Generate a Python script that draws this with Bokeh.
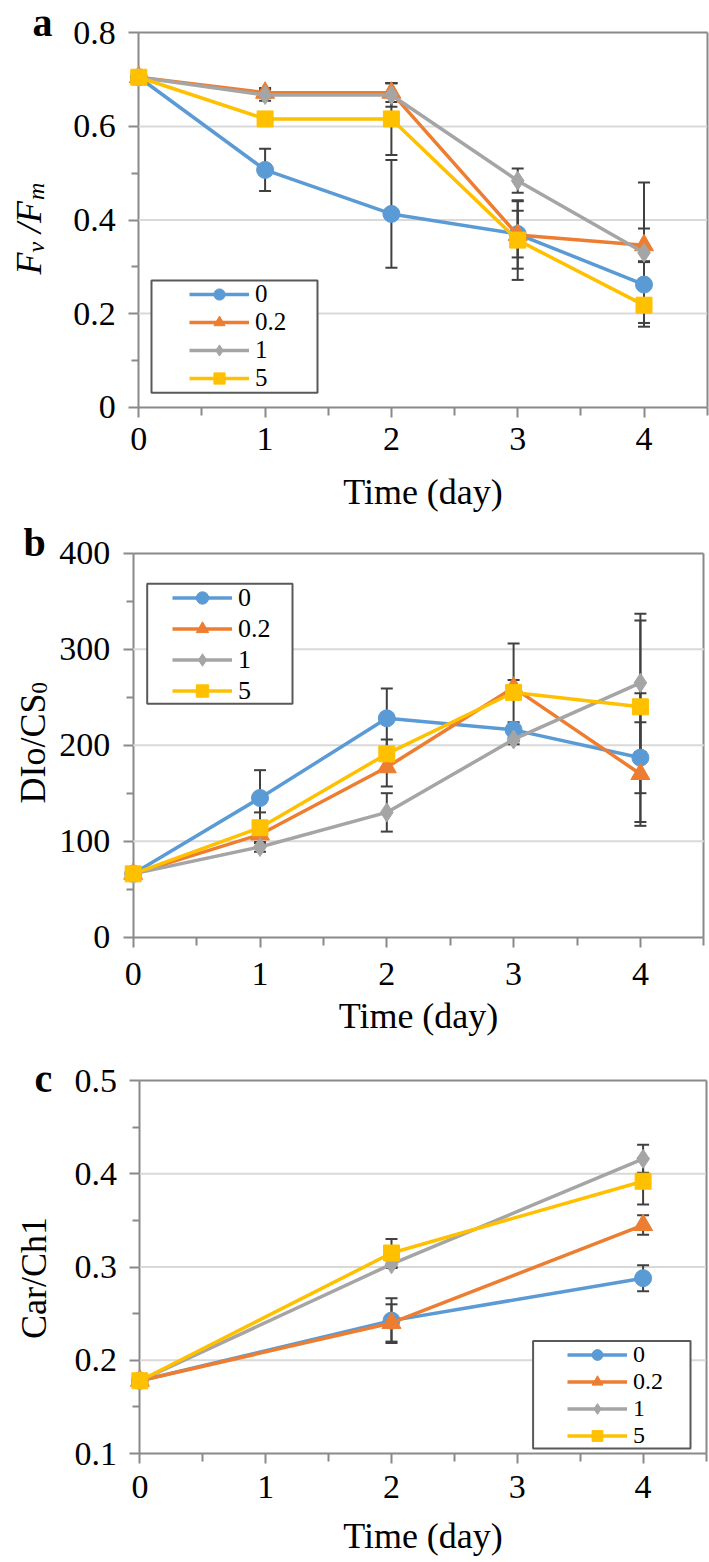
import numpy as np
from bokeh.plotting import figure
from bokeh.layouts import column
from bokeh.models import Range1d, FixedTicker, LinearAxis, Label
from bokeh.embed import file_html
from bokeh.resources import INLINE

# ---------------- data ----------------
series_names = ["0", "0.2", "1", "5"]
days_ab = [0, 1, 2, 3, 4]
days_c = [0, 2, 4]

# panel a : Fv/Fm
fvfm_0 = [0.705, 0.507, 0.413, 0.370, 0.262]
fvfm_02 = [0.705, 0.672, 0.672, 0.368, 0.346]
fvfm_1 = [0.705, 0.667, 0.667, 0.484, 0.330]
fvfm_5 = [0.705, 0.616, 0.616, 0.357, 0.218]
fvfm_0_err = [0.0, 0.045, 0.115, 0.050, 0.050]
fvfm_02_err = [0.0, 0.010, 0.020, 0.072, 0.036]
fvfm_1_err = [0.0, 0.012, 0.025, 0.026, 0.150]
fvfm_5_err = [0.0, 0.010, 0.077, 0.085, 0.046]

# panel b : DIo/CS0
dio_0 = [66, 145, 228, 216, 187]
dio_02 = [66, 107, 177, 260, 170]
dio_1 = [66, 94, 130, 206, 265]
dio_5 = [66, 114, 191, 255, 240]
dio_0_err = [0, 29, 31, 8, 67]
dio_02_err = [0, 8, 20, 8, 54]
dio_1_err = [0, 5, 20, 5, 72]
dio_5_err = [0, 16, 15, 51, 90]

# panel c : Car/Chl
car_0 = [0.178, 0.2425, 0.288]
car_02 = [0.178, 0.240, 0.345]
car_1 = [0.178, 0.303, 0.416]
car_5 = [0.178, 0.315, 0.392]
car_0_err = [0.0, 0.024, 0.014]
car_02_err = [0.0, 0.020, 0.0105]
car_1_err = [0.0, 0.004, 0.015]
car_5_err = [0.0, 0.015, 0.025]

# ticks
x_ticks = [0, 1, 2, 3, 4]
x_tick_labels = ["0", "1", "2", "3", "4"]
x_max = 4.5
fvfm_ticks = [0, 0.2, 0.4, 0.6, 0.8]
fvfm_tick_labels = ["0", "0.2", "0.4", "0.6", "0.8"]
dio_ticks = [0, 100, 200, 300, 400]
dio_tick_labels = ["0", "100", "200", "300", "400"]
car_ticks = [0.1, 0.2, 0.3, 0.4, 0.5]
car_tick_labels = ["0.1", "0.2", "0.3", "0.4", "0.5"]
x_title = "Time (day)"

# ---------------- style ----------------
COLORS = ["#5B9BD5", "#ED7D31", "#A5A5A5", "#FFC000"]
MARKERS = ["circle", "triangle", "diamond", "square"]
SIZES = [17, 19, 19, 16]
AXC = "#898989"
ERRC = "#404040"
FONT = "Liberation Serif"
FIG_W = 709


def minor_of(ticks):
    t = np.asarray(ticks, dtype=float)
    return list((t[:-1] + t[1:]) / 2.0)


def style_axis(ax):
    ax.axis_line_color = AXC
    ax.axis_line_width = 2
    ax.major_tick_line_color = AXC
    ax.major_tick_line_width = 2
    ax.minor_tick_line_color = AXC
    ax.minor_tick_line_width = 2
    ax.major_label_text_font = FONT
    ax.major_label_text_font_size = "34px"
    ax.major_label_text_color = "black"
    ax.level = "underlay"


def build(spec):
    H = spec["height"]
    ticks, labels = spec["yticks"], spec["ylabels"]
    ylo, yhi = ticks[0], ticks[-1]
    fig_top = spec["fig_top"]
    ax_x = spec["axis_x"]
    ppu = spec["ppu"]
    f_top, f_bot = spec["frame"]
    ppy = (f_bot - f_top) / (yhi - ylo)

    def xd(sx):
        return (sx - ax_x) / ppu

    def yd(sy):
        return ylo + (f_bot - sy) / ppy

    p = figure(width=FIG_W, height=H,
               x_range=Range1d(xd(0), xd(FIG_W)),
               y_range=Range1d(yd(fig_top + H), yd(fig_top)),
               output_backend="svg", toolbar_location=None, tools="",
               min_border=0, min_border_left=0, min_border_right=0,
               min_border_top=0, min_border_bottom=0,
               background_fill_color="white", border_fill_color="white")
    p.outline_line_color = None
    p.xgrid.visible = False
    p.ygrid.visible = False

    # y axis at x = 0
    yax = p.yaxis[0]
    yax.fixed_location = 0
    yax.bounds = (ylo, yhi)
    yax.ticker = FixedTicker(ticks=ticks, minor_ticks=minor_of(ticks))
    yax.major_label_overrides = dict(zip(ticks, labels))
    yax.major_tick_out, yax.major_tick_in = 10, 0
    yax.minor_tick_out, yax.minor_tick_in = 7, 0
    yax.major_label_standoff = 13
    style_axis(yax)
    # x axis at y = ylo
    xax = p.xaxis[0]
    xax.fixed_location = ylo
    xax.bounds = (0, x_max)
    xax.ticker = FixedTicker(ticks=x_ticks, minor_ticks=minor_of(x_ticks + [x_max + 0.5]))
    xax.major_label_overrides = dict(zip(x_ticks, x_tick_labels))
    xax.major_tick_out, xax.major_tick_in = 10, 0
    xax.minor_tick_out, xax.minor_tick_in = 8, 0
    xax.major_label_standoff = spec["xstand"]
    xax.axis_label = x_title
    xax.axis_label_standoff = spec["tstand"]
    xax.axis_label_text_font = FONT
    xax.axis_label_text_font_size = "36px"
    xax.axis_label_text_font_style = "normal"
    xax.axis_label_text_color = "black"
    style_axis(xax)
    # frame top / right borders
    top = LinearAxis(fixed_location=yhi, bounds=(0, x_max), ticker=FixedTicker(ticks=[]),
                     major_label_text_font_size="0px", major_tick_out=0, minor_tick_out=0)
    style_axis(top)
    p.add_layout(top, "above")
    right = LinearAxis(fixed_location=x_max, bounds=(ylo, yhi), ticker=FixedTicker(ticks=[]),
                       major_label_text_font_size="0px", major_tick_out=0, minor_tick_out=0)
    style_axis(right)
    p.add_layout(right, "right")

    # horizontal gridlines at inner major ticks
    inner = ticks[1:-1]
    p.segment(x0=[0] * len(inner), x1=[x_max] * len(inner), y0=inner, y1=inner,
              line_color="#d9d9d9", line_width=2)

    # legend frame
    bx0, by0, bx1, by1 = spec["box"]
    p.quad(left=xd(bx0), right=xd(bx1), top=yd(by0), bottom=yd(by1),
           fill_color="white", line_color="#595959", line_width=2)

    xs = spec["x"]
    # error bars
    for k, name in enumerate(series_names):
        vals = spec["vals"][k]
        errs = spec["errs"][k]
        keep = [i for i, e in enumerate(errs) if e > 0]
        ex = [xs[i] for i in keep]
        up = [vals[i] + errs[i] for i in keep]
        lo = [vals[i] - errs[i] for i in keep]
        p.segment(x0=ex, x1=ex, y0=lo, y1=up, line_color=ERRC, line_width=2)
        p.scatter(ex, up, marker="dash", size=12, line_color=ERRC, line_width=2)
        p.scatter(ex, lo, marker="dash", size=12, line_color=ERRC, line_width=2)
    # series
    for k, name in enumerate(series_names):
        vals = spec["vals"][k]
        p.line(xs, vals, line_color=COLORS[k], line_width=3.5, legend_label=name)
        p.scatter(xs, vals, marker=MARKERS[k], size=SIZES[k], fill_color=COLORS[k],
                  line_color=COLORS[k], legend_label=name)

    lg = p.legend[0]
    n = len(series_names)
    pitch = spec["lpitch"]
    ltop = spec["lcenter"] - pitch / 2.0
    lbottom = ltop + n * pitch
    lg.location = (spec["gx"], fig_top + H - lbottom)
    lg.padding = 0
    lg.margin = 0
    lg.spacing = 0
    lg.border_line_color = None
    lg.background_fill_alpha = 0
    lg.label_text_font = FONT
    lg.label_text_font_size = spec["lfont"]
    lg.label_text_color = "black"
    lg.glyph_width = 60
    lg.glyph_height = pitch
    lg.label_height = pitch
    lg.label_standoff = 6

    # panel letter
    lx, ly = spec["letter_pos"]
    p.add_layout(Label(x=0, y=ylo, x_offset=lx - ax_x, y_offset=f_bot - ly,
                       text=spec["letter"], text_font=FONT, text_font_size="40px",
                       text_font_style="bold", text_color="black",
                       text_align="left", text_baseline="alphabetic"))
    # y axis title pieces (rotated)
    bx, sy = spec["ytitle_pos"]
    for txt, size, style, along, across in spec["ytitle"]:
        p.add_layout(Label(x=0, y=ylo, x_offset=bx + across - ax_x,
                           y_offset=f_bot - sy + along, angle=np.pi / 2,
                           text=txt, text_font=FONT, text_font_size=f"{size}px",
                           text_font_style=style, text_color="black",
                           text_align="left", text_baseline="alphabetic"))
    return p


spec_a = dict(fig_top=0, height=515, frame=(32.3, 406.7), axis_x=138.3, ppu=126.3,
              yticks=fvfm_ticks, ylabels=fvfm_tick_labels, x=days_ab,
              vals=[fvfm_0, fvfm_02, fvfm_1, fvfm_5],
              errs=[fvfm_0_err, fvfm_02_err, fvfm_1_err, fvfm_5_err],
              xstand=11, tstand=18, box=(151, 280, 317, 392.3), gx=189, lcenter=294.3,
              lpitch=28, lfont="25px", letter="a", letter_pos=(32, 22),
              ytitle_pos=(28.5, 274),
              ytitle=[("F", 36, "italic", 0, 0), ("v", 24, "italic", 22, 7),
                      ("/F", 36, "italic", 41.5, 0), ("m", 24, "italic", 74.5, 7)])
spec_b = dict(fig_top=515, height=525, frame=(552.7, 936.7), axis_x=132.7, ppu=126.8,
              yticks=dio_ticks, ylabels=dio_tick_labels, x=days_ab,
              vals=[dio_0, dio_02, dio_1, dio_5],
              errs=[dio_0_err, dio_02_err, dio_1_err, dio_5_err],
              xstand=16, tstand=7, box=(146.7, 583.3, 292, 703.3), gx=172, lcenter=597.5,
              lpitch=31, lfont="26px", letter="b", letter_pos=(23, 542),
              ytitle_pos=(32, 803),
              ytitle=[("DIo/CS", 36, "normal", 0, 0), ("0", 23, "normal", 110, 7)])
spec_c = dict(fig_top=1040, height=522, frame=(1080, 1453), axis_x=139.4, ppu=125.8,
              yticks=car_ticks, ylabels=car_tick_labels, x=days_c,
              vals=[car_0, car_02, car_1, car_5],
              errs=[car_0_err, car_02_err, car_1_err, car_5_err],
              xstand=12, tstand=15, box=(532.6, 1340.5, 690, 1448), gx=567, lcenter=1354.5,
              lpitch=27, lfont="24px", letter="c", letter_pos=(34, 1078),
              ytitle_pos=(33.5, 1338.5),
              ytitle=[("Car/Ch1", 36, "normal", 0, 0)])

pa = build(spec_a)
pb = build(spec_b)
pc = build(spec_c)
layout = column(pa, pb, pc, spacing=0)
open("out.html", "w").write(file_html(layout, INLINE))
